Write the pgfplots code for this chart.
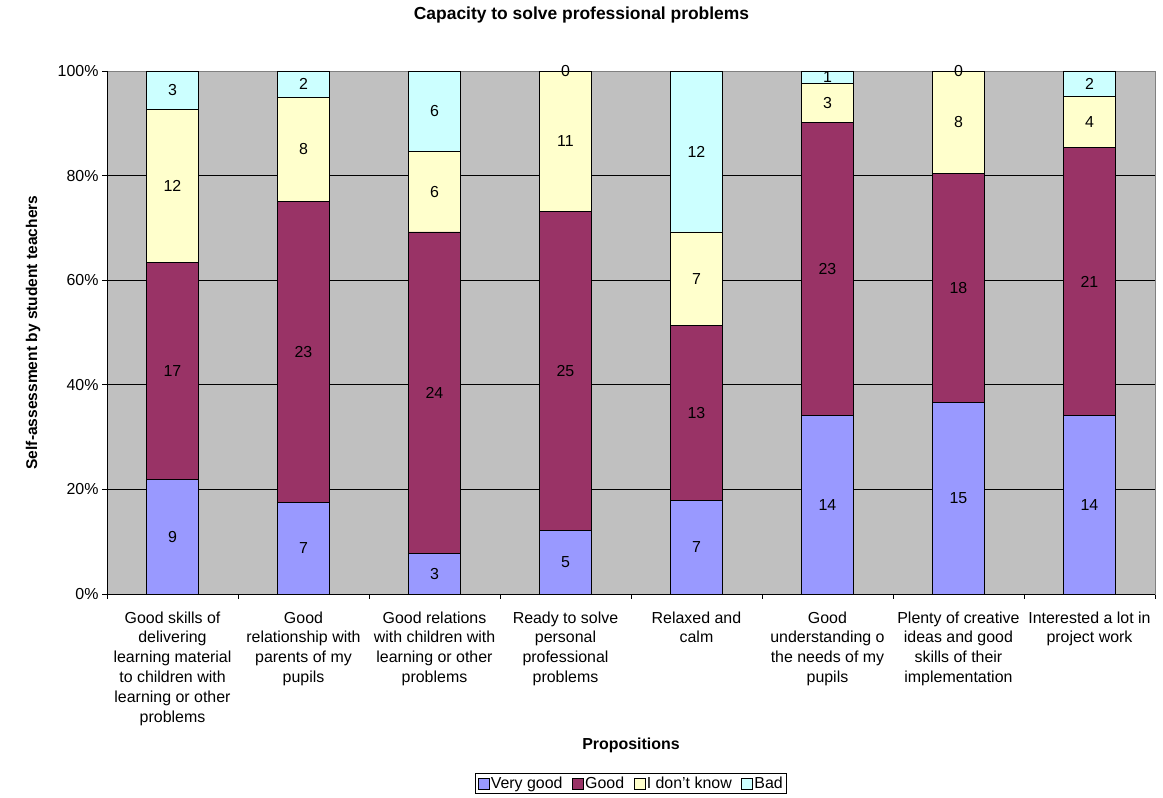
\documentclass[border=0pt]{standalone}
\usepackage{pgfplots}
\pgfplotsset{compat=1.18}
\usepackage{pgfplotstable}
\usepackage{fontspec}
\setmainfont{Liberation Sans}
\definecolor{vgc}{HTML}{9999FF}
\definecolor{gc}{HTML}{993366}
\definecolor{dkc}{HTML}{FFFFCC}
\definecolor{badc}{HTML}{CCFFFF}
\definecolor{bgc}{HTML}{C0C0C0}
\definecolor{brd}{HTML}{808080}
\pgfplotstableread{
x vg g dk bad tot
0 9 17 12 3 41
1 7 23 8 2 40
2 3 24 6 6 39
3 5 25 11 0 41
4 7 13 7 12 39
5 14 23 3 1 41
6 15 18 8 0 41
7 14 21 4 2 41
}\data
\newcommand\fs{\fontsize{16}{20}\selectfont}
\pgfplotsset{
  common/.style={
    at={(107bp,204bp)}, anchor=south west,
    scale only axis, width=1048bp, height=523bp,
    xmin=-0.5, xmax=7.5, ymin=0, ymax=100,
  }
}
\begin{document}
\begin{tikzpicture}
\useasboundingbox (0,0) rectangle (1163bp,798bp);
\begin{axis}[
  common,
  ybar stacked, bar width=52bp,
  /pgf/number format/assume math mode=true,
  axis background/.style={fill=bgc},
  axis line style={brd, line width=0.8bp},
  xtick={-0.5,0.5,...,7.5},
  x tick label as interval,
  xticklabels={
    {Good skills of\\delivering\\learning material\\to children with\\learning or other\\problems},
    {Good\\relationship with\\parents of my\\pupils},
    {Good relations\\with children with\\learning or other\\problems},
    {Ready to solve\\personal\\professional\\problems},
    {Relaxed and\\calm},
    {Good\\understanding o\\the needs of my\\pupils},
    {Plenty of creative\\ideas and good\\skills of their\\implementation},
    {Interested a lot in\\project work}},
  xticklabel style={font=\fs, align=center, anchor=north, yshift=-9bp},
  ytick={0,20,...,100},
  yticklabel={\pgfmathprintnumber{\tick}\%},
  yticklabel style={font=\fs},
  xtick pos=bottom, ytick pos=left,
  tick align=outside, major tick length=5bp,
  tick style={black, line width=0.8bp},
  ymajorgrids, major grid style={black, line width=0.8bp},
  every axis title shift=0pt,
  title={Capacity to solve professional problems},
  title style={at={(0.4528,1.107)}, anchor=center, font=\bfseries\fontsize{17.5}{21}\selectfont},
  xlabel={Propositions},
  xlabel style={at={(0.5,-0.2887)}, anchor=center, font=\bfseries\fs},
  ylabel={Self-assessment by student teachers},
  ylabel style={at={(-0.0706,0.5)}, anchor=center, font=\bfseries\fontsize{15.6}{20}\selectfont},
  legend style={at={(0.5,-0.3623)}, anchor=center, legend columns=-1,
    draw=black, line width=0.6bp, font=\fs, inner sep=2bp,
    nodes={inner sep=1.5bp},
    /tikz/every even column/.append style={column sep=8bp}},
  legend image code/.code={\draw[#1, draw=black, line width=0.6bp] (0bp,-5.5bp) rectangle (11bp,5.5bp);},
  every axis plot/.append style={draw=black, line width=0.8bp},
]
\addplot[fill=vgc] table[x=x, y expr=\thisrow{vg}/\thisrow{tot}*100]{\data};
\addplot[fill=gc] table[x=x, y expr=\thisrow{g}/\thisrow{tot}*100]{\data};
\addplot[fill=dkc] table[x=x, y expr=\thisrow{dk}/\thisrow{tot}*100]{\data};
\addplot[fill=badc] table[x=x, y expr=\thisrow{bad}/\thisrow{tot}*100]{\data};
\legend{Very good, Good, I don't know, Bad}
\draw[black, line width=0.8bp] (rel axis cs:0,1) -- (rel axis cs:0,0) -- (rel axis cs:1,0);
\end{axis}
\begin{axis}[
  common, hide axis, clip=false,
  every axis plot/.append style={only marks, mark=*, mark size=0pt, mark options={draw=none, fill=none}},
  nodes near coords, point meta=explicit symbolic,
  every node near coord/.append style={font=\fs, black, anchor=center},
]
\addplot table[x=x, y expr=0.5*\thisrow{vg}/\thisrow{tot}*100, meta=vg]{\data};
\addplot table[x=x, y expr=(\thisrow{vg}+0.5*\thisrow{g})/\thisrow{tot}*100, meta=g]{\data};
\addplot table[x=x, y expr=(\thisrow{vg}+\thisrow{g}+0.5*\thisrow{dk})/\thisrow{tot}*100, meta=dk]{\data};
\addplot table[x=x, y expr=(\thisrow{vg}+\thisrow{g}+\thisrow{dk}+0.5*\thisrow{bad})/\thisrow{tot}*100, meta=bad]{\data};
\end{axis}
\end{tikzpicture}
\end{document}
